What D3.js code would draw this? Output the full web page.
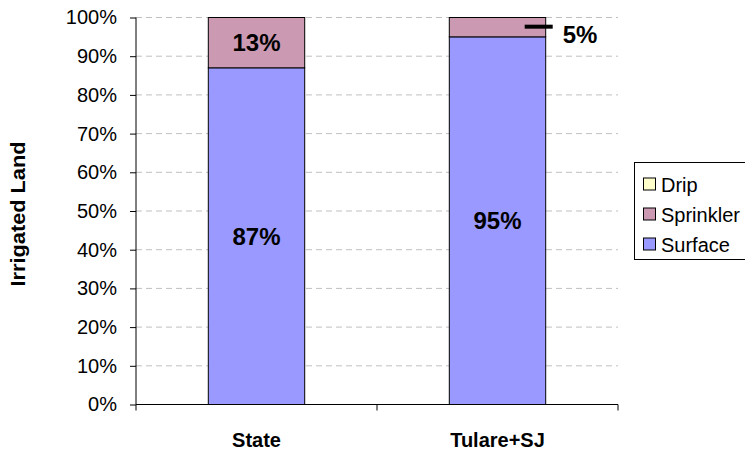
<!DOCTYPE html>
<html><head><meta charset="utf-8">
<script src="https://cdn.jsdelivr.net/npm/d3@7"></script>
<style>body{margin:0;background:#fff}svg{display:block;font-family:"Liberation Sans",Arial,sans-serif}</style>
</head><body><svg id="c" width="745" height="451"></svg>
<script>
const categories = ["State", "Tulare+SJ"];
const seriesNames = ["Surface", "Sprinkler", "Drip"];
const surface = [0.87, 0.95];
const sprinkler = [0.13, 0.05];
const drip = [0, 0];
const yTicks = [0,0.1,0.2,0.3,0.4,0.5,0.6,0.7,0.8,0.9,1.0];
const legendOrder = ["Drip", "Sprinkler", "Surface"];
const colors = {Surface:"#9999FF", Sprinkler:"#CC99B3", Drip:"#FFFFCC"};

const rows = categories.map((c,i)=>({cat:c, Surface:surface[i], Sprinkler:sprinkler[i], Drip:drip[i]}));
const stack = d3.stack().keys(seriesNames)(rows);

const svg = d3.select("#c");
const L=136, R=618, T=17.5, B=404.5;
const x = d3.scaleBand().domain(categories).range([L,R]).padding(0);
const y = d3.scaleLinear().domain([0,1]).range([B,T]);
const barW = x.bandwidth()*0.4;

// gridlines
svg.append("g").selectAll("line").data(yTicks.filter(t=>t>0)).join("line")
  .attr("x1",L).attr("x2",R).attr("y1",d=>y(d)).attr("y2",d=>y(d))
  .attr("stroke","#c0c0c0").attr("stroke-dasharray","6,4").attr("stroke-width",1);

// bars
stack.forEach(s=>{
  svg.append("g").selectAll("rect").data(s.filter(d=>d[1]-d[0]>0)).join("rect")
    .attr("x",d=>x(d.data.cat)+x.bandwidth()/2-barW/2)
    .attr("width",barW)
    .attr("y",d=>y(d[1])).attr("height",d=>y(d[0])-y(d[1]))
    .attr("fill",colors[s.key]).attr("stroke","#000").attr("stroke-width",1);
});

// labels
stack.forEach(s=>{
  s.forEach(d=>{
    const v=d[1]-d[0]; if(v<=0) return;
    const cx=x(d.data.cat)+x.bandwidth()/2;
    const cy=(y(d[0])+y(d[1]))/2;
    const txt=d3.format(".0%")(v);
    if (y(d[0])-y(d[1])>30){
      svg.append("text").attr("x",cx).attr("y",cy+8.5).attr("text-anchor","middle")
        .attr("font-size",24).attr("font-weight","bold").text(txt);
    } else {
      const bx=cx+barW/2;
      svg.append("line").attr("x1",bx-21).attr("x2",bx+7).attr("y1",cy-0.5).attr("y2",cy-0.5)
        .attr("stroke","#000").attr("stroke-width",4);
      svg.append("text").attr("x",bx+17).attr("y",cy+16).attr("text-anchor","start")
        .attr("font-size",24).attr("font-weight","bold").text(txt);
    }
  });
});

// y axis
const ya = svg.append("g").attr("transform",`translate(${L},0)`)
  .call(d3.axisLeft(y).tickValues(yTicks).tickFormat(d3.format(".0%")).tickSize(6).tickPadding(13));
ya.select(".domain").attr("stroke","#000").attr("d",`M0,${T}V${B}`);
ya.selectAll(".tick line").attr("stroke","#000");
ya.selectAll(".tick text").attr("font-size",20).attr("font-family","Liberation Sans, Arial, sans-serif").attr("fill","#000");

// x axis
const xa = svg.append("g").attr("transform",`translate(0,${B})`);
xa.append("line").attr("x1",L).attr("x2",R).attr("stroke","#000");
xa.selectAll(".xt").data(d3.range(categories.length+1)).join("line")
  .attr("x1",i=>L+i*x.step()).attr("x2",i=>L+i*x.step()).attr("y1",0).attr("y2",6).attr("stroke","#000");
xa.selectAll("text").data(categories).join("text")
  .attr("x",d=>x(d)+x.bandwidth()/2).attr("y",42).attr("text-anchor","middle")
  .attr("font-size",20).attr("font-weight","bold").text(d=>d);

// y title
svg.append("text").attr("transform","translate(25,214) rotate(-90)").attr("text-anchor","middle")
  .attr("font-size",20).attr("font-weight","bold")
  .attr("textLength",145).attr("lengthAdjust","spacingAndGlyphs").text("Irrigated Land");

// legend
const lg = svg.append("g");
lg.append("rect").attr("x",634.5).attr("y",162.5).attr("width",130).attr("height",97)
  .attr("fill","#fff").attr("stroke","#000").attr("stroke-width",1);
legendOrder.forEach((k,i)=>{
  const cy=184.5+i*30;
  lg.append("rect").attr("x",643.5).attr("y",cy-6.5).attr("width",12).attr("height",12)
    .attr("fill",colors[k]).attr("stroke","#000");
  lg.append("text").attr("x",661).attr("y",cy+7).attr("font-size",20).text(k);
});
</script></body></html>
